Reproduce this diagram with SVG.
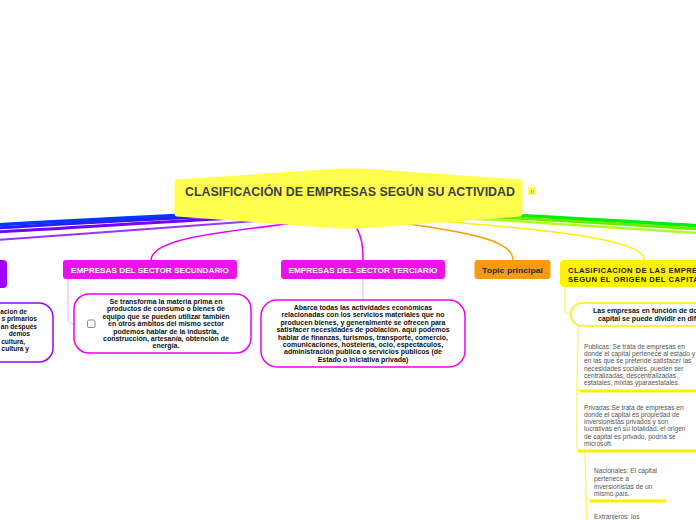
<svg xmlns="http://www.w3.org/2000/svg" width="696" height="520" viewBox="0 0 696 520">
<style>
.bold{font-family:"Liberation Sans",Arial,sans-serif;font-weight:bold}
.reg{font-family:"Liberation Sans",Arial,sans-serif;fill:#555;font-size:6.6px}
.lab{font-size:7.4px;fill:#fff;text-anchor:middle}
.bub{font-size:7px;fill:#111;text-anchor:middle}
.br{fill:none;stroke-linecap:round}
.pink{stroke:#f4a8f4;stroke-width:1;fill:none}
.pale{stroke:#fff27a;stroke-width:1.5;fill:none}
.ul{stroke:#ffee00;stroke-width:3}
</style>
<rect width="696" height="520" fill="#fff"/>
<g id="connectors">
<path class="br" d="M 300 211 C 200 213, 100 219, -5 225" stroke="#0038ff" stroke-width="3.5"/>
<path class="br" d="M 300 213 C 200 216, 100 222, -5 228" stroke="#2a1cff" stroke-width="3"/>
<path class="br" d="M 300 215 C 200 219, 100 226, -5 232" stroke="#7400ff" stroke-width="3"/>
<path class="br" d="M 310 217 C 220 223, 100 233, -5 240" stroke="#9933ff" stroke-width="2"/>
<path class="br" d="M 400 211 C 500 213, 600 220, 701 226" stroke="#00ee00" stroke-width="3.5"/>
<path class="br" d="M 400 213 C 500 216, 600 223, 701 229" stroke="#66ee00" stroke-width="3"/>
<path class="br" d="M 400 215 C 500 219, 600 227, 701 233" stroke="#b0ff20" stroke-width="2.5"/>
<path class="br" d="M 400 218 C 560 230, 645 240, 644 260" stroke="#ffee00" stroke-width="1.5"/>
<path class="br" d="M 380 220 C 470 232, 513 240, 513 260" stroke="#ff9900" stroke-width="1.5"/>
<path class="br" d="M 320 220 C 220 232, 152 238, 151 260" stroke="#ee00ee" stroke-width="1.5"/>
<path class="br" d="M 352 220 C 362 235, 363 245, 363 260" stroke="#ee00ee" stroke-width="1.5"/>
<path class="pink" d="M 68 279 L 68 319 Q 68 324 74 324"/>
<path class="pink" d="M 363 279 L 363 300"/>
<path class="pale" d="M 565 287 L 565 309 Q 565 314 571 314"/>
<path class="pale" d="M 578 326 L 577 386 Q 577 391 582 391"/>
<path class="pale" d="M 577 386 L 577 446 Q 577 451 582 451"/>
<path class="pale" d="M 585 452 L 586 496 Q 586 501 591 501"/>
<path class="pale" d="M 586 496 L 587 521"/>
<line class="ul" x1="580" y1="391" x2="700" y2="391"/>
<line class="ul" x1="578" y1="451" x2="700" y2="451"/>
<line class="ul" x1="590" y1="501" x2="666" y2="501"/>
</g>
<g id="central">
<polygon points="177,182 340,171 360,171 520,182 520,214 360,226 340,226 177,214" fill="#ffff4d" stroke="#ffff4d" stroke-width="5" stroke-linejoin="round"/>
<text class="bold" x="350" y="196" font-size="12" fill="#3e3e46" text-anchor="middle" textLength="330" lengthAdjust="spacingAndGlyphs">CLASIFICACIÓN DE EMPRESAS SEGÚN SU ACTIVIDAD</text>
<rect x="528" y="187" width="8" height="8" rx="1" fill="#ffff4d"/>
<text x="532" y="193.5" font-family="Liberation Serif,serif" font-size="6.5" fill="#777" text-anchor="middle">J!</text>
</g>
<g id="primario">
<rect x="-10" y="260" width="17" height="28" rx="4" fill="#a000ff"/>
<rect x="-40" y="303" width="93" height="59" rx="14" fill="#fff" stroke="#a000ff" stroke-width="1.5"/>
<g class="bold" font-size="6.6" fill="#111" text-anchor="end">
<text x="27" y="313.5">acion de</text>
<text x="37" y="321">s primarios</text>
<text x="37" y="328.5">an después</text>
<text x="30" y="336">demos</text>
<text x="25" y="343.5">cultura,</text>
<text x="29" y="351">cultura y</text>
</g>
</g>
<g id="secundario">
<rect x="63" y="260" width="174" height="19" rx="3" fill="#ee11ee"/>
<text class="bold lab" x="150" y="272.6" textLength="158" lengthAdjust="spacingAndGlyphs">EMPRESAS DEL SECTOR SECUNDARIO</text>
<rect x="74" y="294" width="177" height="59" rx="15" fill="#fff" stroke="#ee00ee" stroke-width="1.5"/>
<rect x="87.5" y="320" width="7.5" height="7.5" rx="1.5" fill="#fff" stroke="#888" stroke-width="1"/>
<g class="bold bub">
<text x="166" y="304">Se transforma la materia prima en</text>
<text x="166" y="311.4">productos de consumo o bienes de</text>
<text x="166" y="318.7">equipo que se pueden utilizar también</text>
<text x="166" y="326.1">en otros ámbitos del mismo sector</text>
<text x="166" y="333.5">podemos hablar de la industria,</text>
<text x="166" y="340.9">construcción, artesanía, obtención de</text>
<text x="166" y="348.2">energía.</text>
</g>
</g>
<g id="terciario">
<rect x="281" y="260" width="164" height="19" rx="3" fill="#ee11ee"/>
<text class="bold lab" x="363" y="272.6" textLength="149" lengthAdjust="spacingAndGlyphs">EMPRESAS DEL SECTOR TERCIARIO</text>
<rect x="261" y="300" width="204" height="67" rx="16" fill="#fff" stroke="#ee00ee" stroke-width="1.5"/>
<g class="bold bub" font-size="6.9">
<text x="363" y="310">Abarca todas las actividades económicas</text>
<text x="363" y="317.4">relacionadas con los servicios materiales que no</text>
<text x="363" y="324.8">producen bienes, y generalmente se ofrecen para</text>
<text x="363" y="332.2">satisfacer necesidades de población. aquí podemos</text>
<text x="363" y="339.6">hablar de finanzas, turismos, transporte, comercio,</text>
<text x="363" y="347">comunicaciones, hostelería, ocio, espectáculos,</text>
<text x="363" y="354.4">administración publica o servicios públicos (de</text>
<text x="363" y="361.8">Estado o iniciativa privada)</text>
</g>
</g>
<g id="topic">
<rect x="474.5" y="260" width="76" height="19" rx="3" fill="#fa9a0f"/>
<text class="bold" x="512.5" y="272.6" font-size="7.4" fill="#2a2a2a" text-anchor="middle" textLength="61" lengthAdjust="spacingAndGlyphs">Topic principal</text>
</g>
<g id="capital">
<rect x="560" y="260" width="150" height="27" rx="4" fill="#fff200"/>
<g class="bold" font-size="7.6" fill="#222">
<text x="568" y="272.6" textLength="146" lengthAdjust="spacing">CLASIFICACION DE LAS EMPRESAS</text>
<text x="568" y="282.2" textLength="136" lengthAdjust="spacing">SEGUN EL ORIGEN DEL CAPITAL</text>
</g>
<rect x="571" y="303" width="140" height="23" rx="11" fill="#fff" stroke="#ffee00" stroke-width="1.5"/>
<g class="bold" font-size="7" fill="#111">
<text x="593" y="313.3">Las empresas en función de donde</text>
<text x="598" y="320.6">capital se puede dividir en diferentes</text>
</g>
</g>
<g id="publicas" class="reg">
<text x="584" y="349">Publicas: Se trata de empresas en</text>
<text x="584" y="356.2">donde el capital pertenece al estado y</text>
<text x="584" y="363.4">en las que se pretende satisfacer las</text>
<text x="584" y="370.6">necesidades sociales. pueden ser</text>
<text x="584" y="377.8">centralizadas, descentralizadas,</text>
<text x="584" y="385">estatales, mixtas yparaestatales.</text>
</g>
<g id="privadas" class="reg">
<text x="584" y="409.5">Privadas:Se trata de empresas en</text>
<text x="584" y="416.8">donde el capital es propiedad de</text>
<text x="584" y="424.1">inversionistas privados y son</text>
<text x="584" y="431.4">lucrativas en su totalidad. el origen</text>
<text x="584" y="438.7">de capital es privado, podría se</text>
<text x="584" y="446">microsoft.</text>
</g>
<g id="nacionales" class="reg">
<text x="594" y="473.2">Nacionales: El capital</text>
<text x="594" y="480.9">pertenece a</text>
<text x="594" y="488.6">inversionistas de un</text>
<text x="594" y="496.3">mismo país.</text>
</g>
<g id="extranjeros" class="reg">
<text x="594" y="519">Extranjeros: los</text>
</g>
</svg>
